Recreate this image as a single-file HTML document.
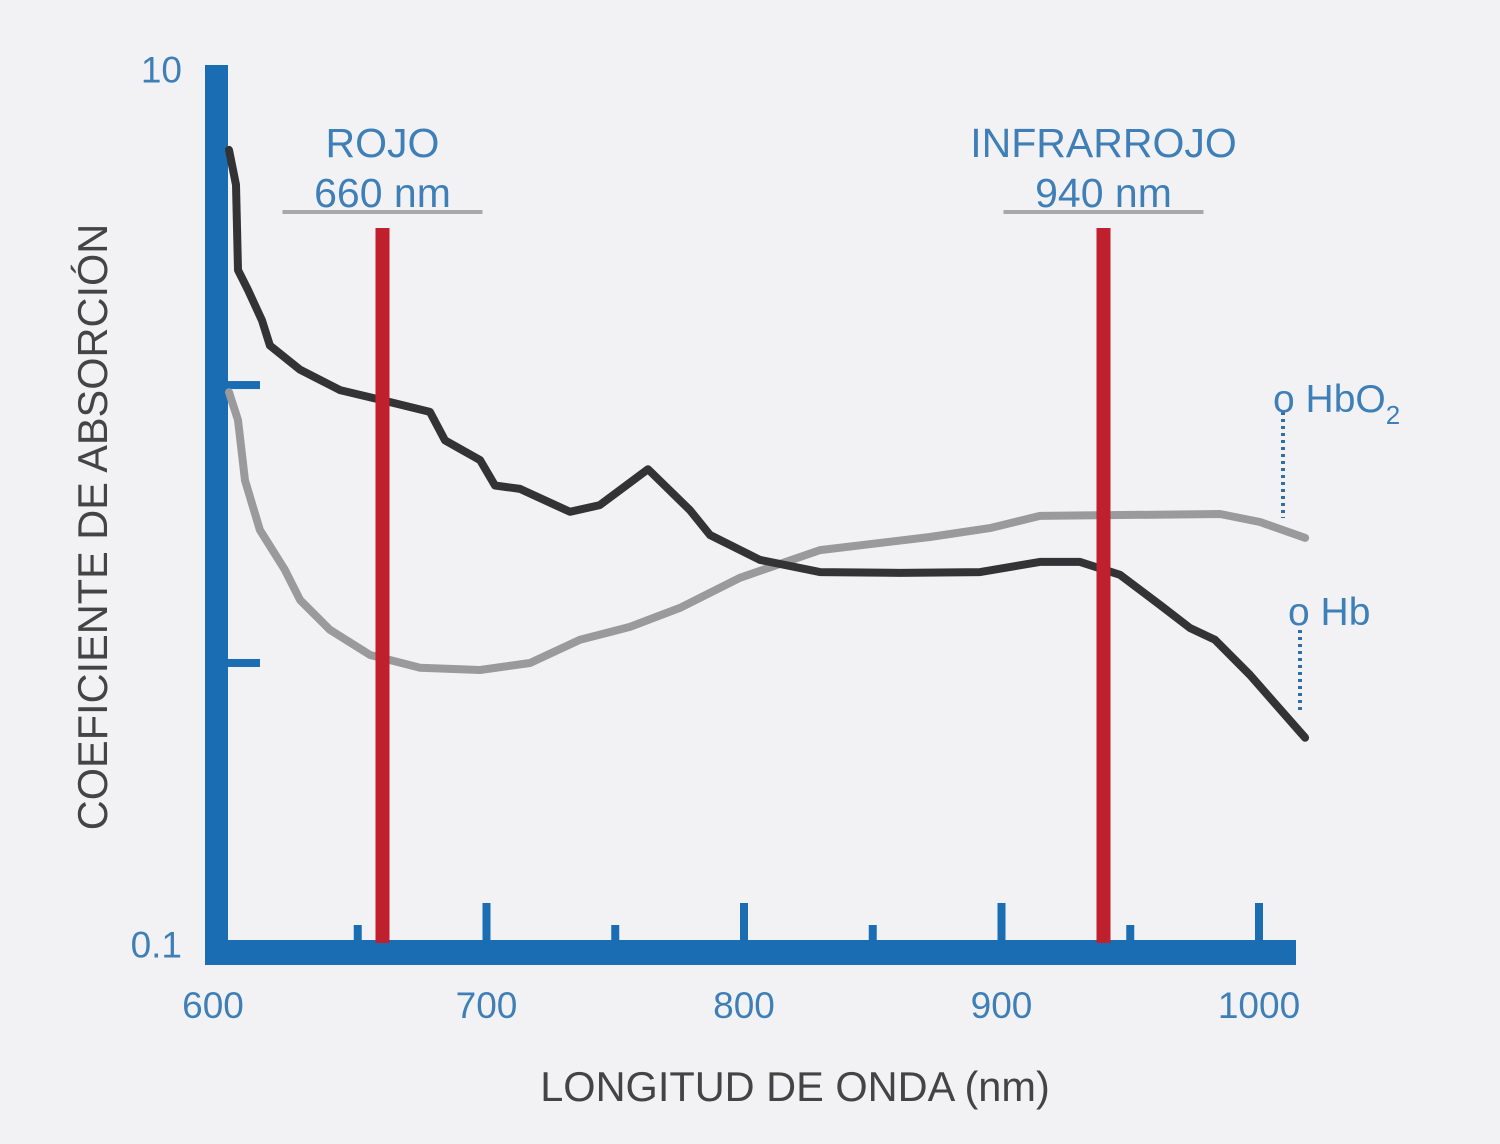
<!DOCTYPE html>
<html><head><meta charset="utf-8"><style>
html,body{margin:0;padding:0;background:#f2f2f4;}
svg{display:block;font-family:"Liberation Sans",sans-serif;}
</style></head><body>
<svg id="chart" width="1500" height="1144" viewBox="0 0 1500 1144">
<rect width="1500" height="1144" fill="#f2f2f4"/>
<g id="plot"></g>
</svg>
<script>
const hbNm=[600,602.7,603.5,607.4,612.8,615.9,627.6,643.1,658.6,678,683.9,697.5,703.3,713,732.4,744,762.7,779,786.8,806.2,829.5,860.6,891.7,914.9,930.5,946,961.6,973.2,982.9,996.5,1017.9];
const hbVal=[6.55,5.45,3.48,3.13,2.67,2.34,2.06,1.85,1.76,1.65,1.42,1.28,1.12,1.10,0.975,1.01,1.22,0.984,0.863,0.757,0.71,0.707,0.71,0.749,0.749,0.70,0.597,0.529,0.497,0.413,0.297];
const hbo2Nm=[600,603.5,606.2,612,621.7,627.6,639.2,654.8,674.2,697.5,716.9,736.3,755.7,775.1,798.4,829.5,872.2,895.5,914.9,984.9,1000.4,1017.9];
const hbo2Val=[1.83,1.58,1.15,0.886,0.718,0.613,0.524,0.459,0.429,0.424,0.440,0.497,0.532,0.588,0.689,0.797,0.854,0.895,0.954,0.964,0.924,0.85];
const xTickLabels=[600,700,800,900,1000];
const xMajorTicks=[700,800,900,1000];
const xMinorTicks=[650,750,850,950];
const yTickLabels=[10,0.1];
const yTicks=[1.9,0.44];
const ledWavelengths=[660,940];
const ledNames=["ROJO","INFRARROJO"];

const X=nm=>229+(nm-600)*2.575;
const Y=v=>507-Math.log10(v)*437.5;
const g=document.getElementById('plot');
const NS='http://www.w3.org/2000/svg';
function mk(tag,attrs,parent){const e=document.createElementNS(NS,tag);for(const k in attrs)e.setAttribute(k,attrs[k]);(parent||g).appendChild(e);return e;}
function txt(s,x,y,attrs){const e=mk('text',Object.assign({x:x,y:y},attrs));e.textContent=s;return e;}

let e=mk('rect',{x:205,y:65,width:23,height:900,fill:'#1a6db3'});


e=mk('rect',{x:205,y:940,width:1091,height:25,fill:'#1a6db3'});



xMajorTicks.forEach(v=>{const t=mk('rect',{x:X(v)-4,y:903,width:8,height:40,fill:'#1a6db3'});

});
xMinorTicks.forEach(v=>{const t=mk('rect',{x:X(v)-4,y:925,width:8,height:18,fill:'#1a6db3'});

});
yTicks.forEach(v=>{const t=mk('rect',{x:226,y:Y(v)-4,width:34,height:8,fill:'#1a6db3'});

});

xTickLabels.forEach((v,i)=>{const t=txt(String(v),X(v)-(i===0?16:0),1018,{'font-size':37,fill:'#3f7fb8','text-anchor':'middle'});

});
yTickLabels.forEach(v=>{const t=txt(String(v),182,Y(v)+13,{'font-size':37,fill:'#3f7fb8','text-anchor':'end'});

});

function line(xs,ys,color,name){const d=xs.map((n,i)=>(i?'L':'M')+X(n).toFixed(1)+','+Y(ys[i]).toFixed(1)).join(' ');
const p=mk('path',{d:d,fill:'none',stroke:color,'stroke-width':8,'stroke-linejoin':'round','stroke-linecap':'round'});

}
line(hbo2Nm,hbo2Val,'#9a9a9c','hbo2-line');
line(hbNm,hbVal,'#333336','hb-line');

ledWavelengths.forEach((w,i)=>{
 const r=mk('rect',{x:X(w)-8,y:228,width:14,height:715,fill:'#c01f2e'});
 
 
 const b=mk('rect',{x:X(w)-101,y:210,width:200,height:4,fill:'#a8a8ab'});
 
 
 const t1=txt(ledNames[i],X(w)-1,157,{'font-size':41,fill:'#3f7fb8','text-anchor':'middle'});
 
 
 const t2=txt(w+' nm',X(w)-1,207,{'font-size':41,fill:'#3f7fb8','text-anchor':'middle'});
 
 
});

e=mk('line',{x1:1283,y1:412,x2:1283,y2:518,stroke:'#2f6ea8','stroke-width':4,'stroke-dasharray':'3,4'});


e=mk('line',{x1:1300,y1:630,x2:1300,y2:712,stroke:'#2f6ea8','stroke-width':4,'stroke-dasharray':'3,4'});


e=txt('',1273,412,{'font-size':39,fill:'#3f7fb8'});
e.innerHTML='o HbO<tspan font-size="26" dy="12">2</tspan>';


e=txt('o Hb',1288,625,{'font-size':39,fill:'#3f7fb8'});



e=txt('LONGITUD DE ONDA (nm)',795,1101,{'font-size':41.5,fill:'#444','text-anchor':'middle'});


e=txt('COEFICIENTE DE ABSORCIÓN',0,0,{'font-size':41.5,fill:'#444','text-anchor':'middle',transform:'translate(107,527) rotate(-90)'});


</script>
</body></html>
